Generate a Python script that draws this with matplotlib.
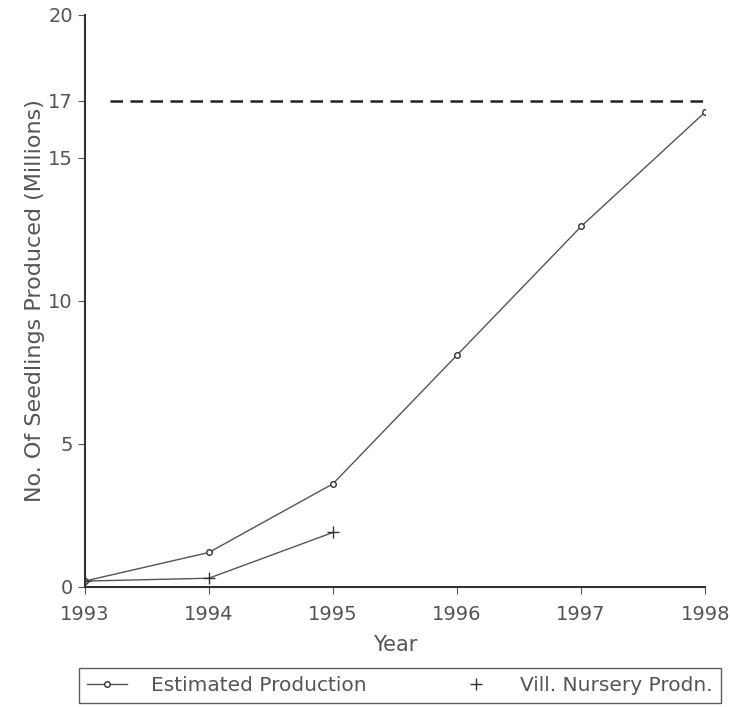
import matplotlib.pyplot as plt
from matplotlib.lines import Line2D

years = [1993, 1994, 1995, 1996, 1997, 1998]
estimated = [0.2, 1.2, 3.6, 8.1, 12.6, 16.6]
vill_years = [1993, 1994, 1995]
vill_nursery = [0.2, 0.3, 1.9]
target = 17
target_span = [1993.2, 1998]

plt.rcParams['font.family'] = ['DejaVu Sans']

fig = plt.figure(figsize=(7.3, 7.07), dpi=100)
ax = fig.add_axes([0.116, 0.17, 0.85, 0.809])

ax.plot(years, estimated, color='#555555', lw=1.0, marker='o', ms=4,
        mfc='white', mec='#333333', mew=1.0)
ax.plot(vill_years, vill_nursery, color='#555555', lw=1.0, marker='+', ms=9,
        mec='#333333', mew=1.0)
ax.plot(target_span, [target, target], color='#222222', lw=1.8,
        linestyle=(0, (5, 3)))

ax.set_xlim(1993, 1998)
ax.set_ylim(0, 20)
ax.set_xticks(years)
ax.set_yticks([0, 5, 10, 15, 17, 20])
ax.spines['top'].set_visible(False)
ax.spines['right'].set_visible(False)
for s in ['left', 'bottom']:
    ax.spines[s].set_color('#333333')
    ax.spines[s].set_linewidth(1.5)
ax.tick_params(direction='out', length=5, colors='#555555', labelsize=14)
ax.tick_params(axis='x', pad=8)
ax.set_xlabel('Year', fontsize=15, color='#555555', labelpad=8)
ax.set_ylabel('No. Of Seedlings Produced (Millions)', fontsize=16,
              color='#555555', labelpad=2)

handles = [
    Line2D([], [], color='#555555', lw=1.0, marker='o', ms=4, mfc='white',
           mec='#333333'),
    Line2D([], [], color='#555555', ls='none', marker='+', ms=9, mec='#333333'),
]
leg = fig.legend(handles, ['Estimated Production', 'Vill. Nursery Prodn.'],
                 loc='upper left', bbox_to_anchor=(0.108, 0.055), ncol=2,
                 fontsize=14.5, frameon=True, fancybox=False,
                 edgecolor='#333333', handlelength=2.0, handletextpad=1.2,
                 columnspacing=4.4, borderaxespad=0)
for t in leg.get_texts():
    t.set_color('#555555')

plt.savefig('out.png', dpi=100)
